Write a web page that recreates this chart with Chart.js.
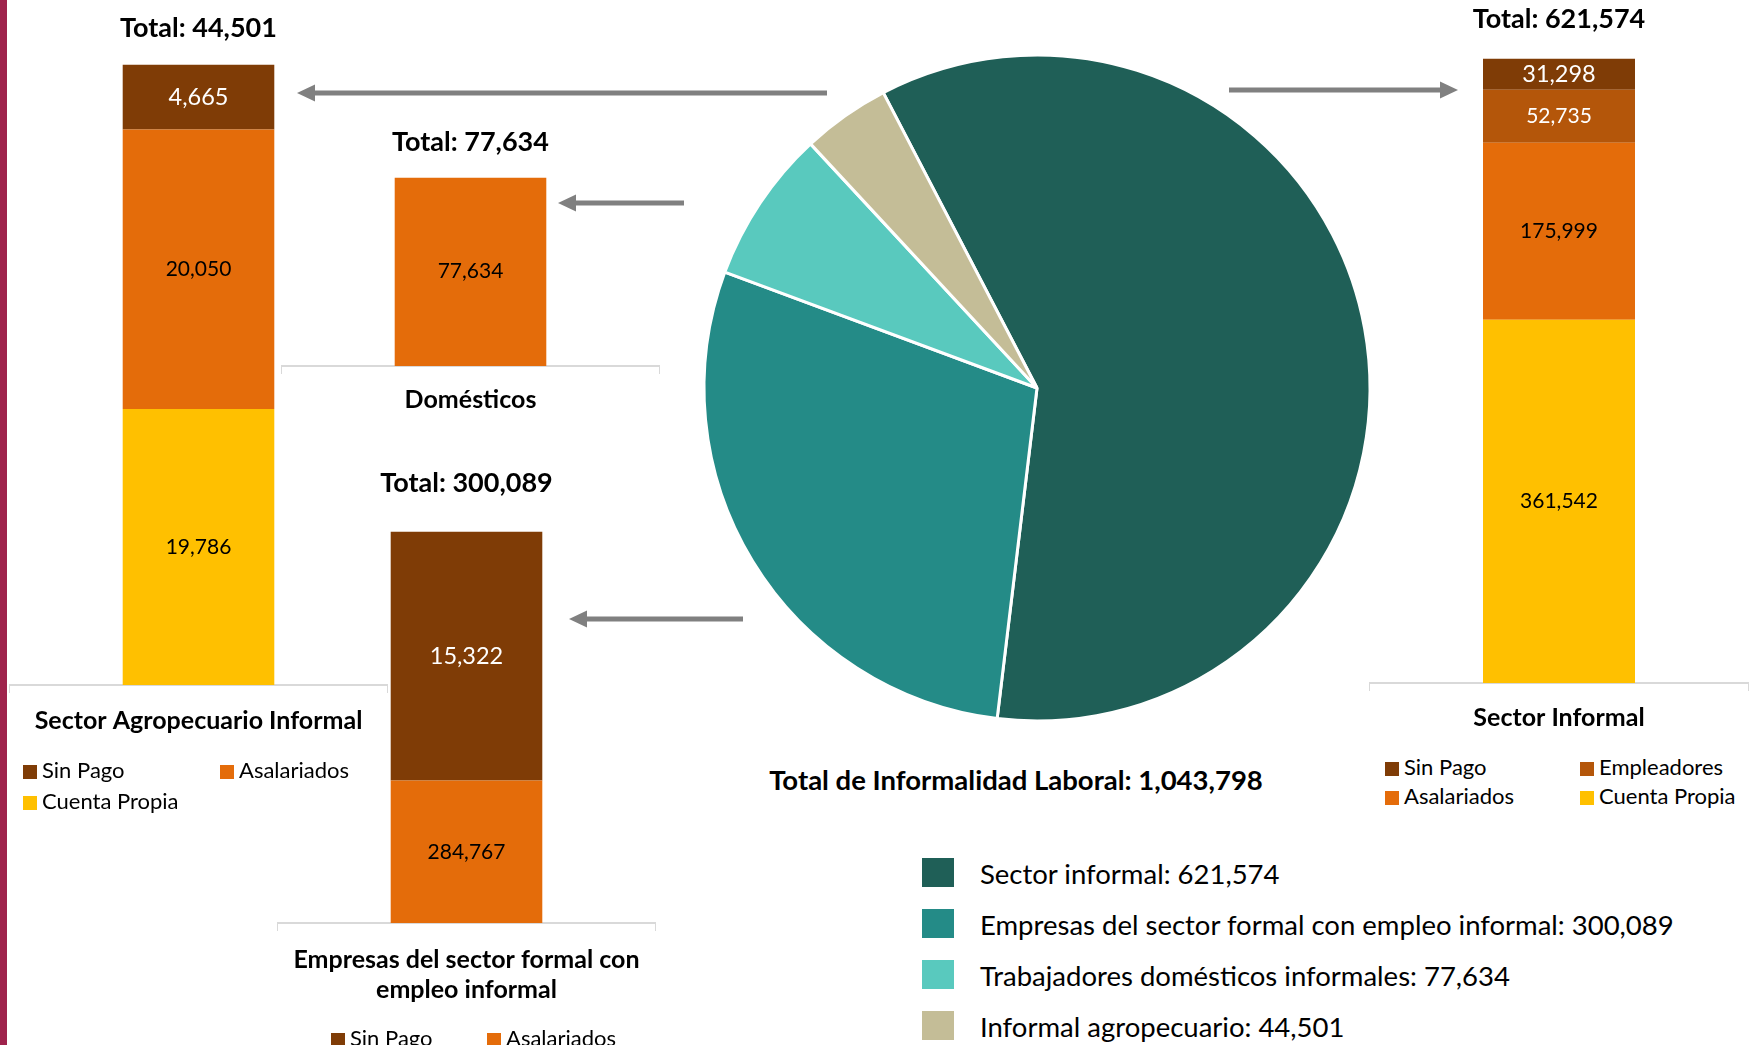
<!DOCTYPE html>
<html lang="es">
<head>
<meta charset="utf-8">
<title>Informalidad laboral</title>
<script src="https://cdn.jsdelivr.net/npm/chart.js@4.4.1/dist/chart.umd.min.js"></script>
<style>
  html, body { margin: 0; padding: 0; background: #fff; }
  body { width: 1756px; height: 1045px; position: relative; overflow: hidden; font-family: Lato, sans-serif; color: #000; }
  .strip { position: absolute; left: 0; top: 0; width: 7px; height: 1045px; background: #9F234C; }
  .box { position: absolute; }
  .legend { position: absolute; display: grid; font-size: 22px; line-height: 29px; white-space: nowrap; }
  .legend span.sq { display: inline-block; width: 14px; height: 14px; margin-right: 5px; vertical-align: -1px; }
  .pie-legend { position: absolute; left: 922px; top: 858px; font-size: 27.5px; }
  .pie-legend div { height: 51px; display: flex; align-items: flex-start; white-space: nowrap; }
  .pie-legend span.sq { display: inline-block; width: 32px; height: 29px; margin-right: 26px; }
  .pie-legend span.tx { position: relative; top: -1px; line-height: 33px; }
  .total { position: absolute; left: 716px; width: 600px; top: 763px; line-height: 33px; text-align: center; font-size: 27.5px; font-weight: bold; }
  svg.arrows { position: absolute; left: 0; top: 0; }
</style>
</head>
<body>
<div class="strip"></div>

<div class="box" style="left:9px;top:0px;"><canvas id="chartAgro" width="379" height="749"></canvas></div>
<div class="box" style="left:281px;top:120px;"><canvas id="chartDom" width="379" height="306"></canvas></div>
<div class="box" style="left:277px;top:460px;"><canvas id="chartEmp" width="379" height="559"></canvas></div>
<div class="box" style="left:1369px;top:0px;"><canvas id="chartInf" width="380" height="745"></canvas></div>
<div class="box" style="left:687px;top:38px;"><canvas id="chartPie" width="700" height="700"></canvas></div>

<div id="legendAgro" class="legend" style="left:23px;top:754px;grid-template-columns:197px 197px;line-height:31px;"></div>
<div id="legendInf" class="legend" style="left:1385px;top:752px;grid-template-columns:195px 195px;"></div>
<div id="legendEmp" class="legend" style="left:331px;top:1023px;grid-template-columns:156px 156px;"></div>

<div class="total" id="totalText"></div>
<div class="pie-legend" id="legendPie"></div>

<svg class="arrows" id="arrows" width="1756" height="1045"></svg>

<script>
// =========================================
// DATA
// =========================================

// Pie: total informalidad laboral
const pieLabels = ['Sector informal', 'Empresas del sector formal con empleo informal', 'Trabajadores domésticos informales', 'Informal agropecuario'];
const pieValues = [621574, 300089, 77634, 44501];
const pieColors = ['#1F5F57', '#248B87', '#59C9BE', '#C4BD97'];

// Sector Agropecuario Informal (bottom to top)
const agroSeries = ['Cuenta Propia', 'Asalariados', 'Sin Pago'];
const agroValues = [19786, 20050, 4665];

// Domésticos
const domSeries = ['Asalariados'];
const domValues = [77634];

// Empresas del sector formal con empleo informal (bottom to top)
const empSeries = ['Asalariados', 'Sin Pago'];
const empValues = [284767, 15322];
const empAxisMin = 276000;

// Sector Informal (bottom to top)
const infSeries = ['Cuenta Propia', 'Asalariados', 'Empleadores', 'Sin Pago'];
const infValues = [361542, 175999, 52735, 31298];

// Colours per tipo
const tipoColors = {
    'Sin Pago': '#7F3C06',
    'Empleadores': '#B4560A',
    'Asalariados': '#E46C0A',
    'Cuenta Propia': '#FFC000'
};
const tipoText = {
    'Sin Pago': '#FFFFFF',
    'Empleadores': '#FFFFFF',
    'Asalariados': '#000000',
    'Cuenta Propia': '#000000'
};
const tipoTextSize = {
    'Sin Pago': 23.5,
    'Empleadores': 21,
    'Asalariados': 21,
    'Cuenta Propia': 21
};

Chart.defaults.font.family = 'Lato';
Chart.defaults.color = '#000';

const fmt = (v) => v.toLocaleString('en-US');
const sum = (arr) => arr.reduce((a, b) => a + b, 0);

// =========================================
// PLUGINS
// =========================================

// value in the middle of each visible segment
const valueLabels = {
    id: 'valueLabels',
    afterDatasetsDraw(chart) {
        const ctx = chart.ctx;
        const area = chart.chartArea;
        ctx.save();
        ctx.textAlign = 'center';
        ctx.textBaseline = 'middle';
        chart.data.datasets.forEach((ds, i) => {
            chart.getDatasetMeta(i).data.forEach((bar, j) => {
                const top = Math.max(bar.y, area.top);
                const bottom = Math.min(bar.base, area.bottom);
                ctx.font = ds.labelSize + 'px Lato';
                ctx.fillStyle = ds.labelColor;
                ctx.fillText(fmt(ds.data[j]), bar.x, (top + bottom) / 2);
            });
        });
        ctx.restore();
    }
};

// =========================================
// CHARTS
// =========================================

function stackedBar(id, category, series, values, opts) {
    const total = sum(values);
    const ctx = document.getElementById(id).getContext('2d');
    return new Chart(ctx, {
        type: 'bar',
        data: {
            labels: [category],
            datasets: series.map((name, i) => ({
                label: name,
                data: [values[i]],
                backgroundColor: tipoColors[name],
                labelColor: tipoText[name],
                labelSize: tipoTextSize[name],
                borderWidth: 0,
                barPercentage: 0.4,
                categoryPercentage: 1.0,
                clip: 0
            }))
        },
        options: {
            responsive: false,
            animation: false,
            layout: { padding: 0 },
            plugins: {
                legend: { display: false },
                tooltip: { enabled: false },
                title: {
                    display: true,
                    text: 'Total: ' + fmt(total),
                    font: { size: 27, weight: 'bold' },
                    color: '#000',
                    padding: { top: opts.titleTop, bottom: opts.titleBottom }
                }
            },
            scales: {
                x: {
                    stacked: true,
                    grid: {
                        offset: true,
                        drawOnChartArea: false,
                        drawTicks: true,
                        tickLength: 8,
                        color: '#D9D9D9',
                        lineWidth: 2
                    },
                    border: { display: true, color: '#D9D9D9', width: 2 },
                    ticks: {
                        color: '#000',
                        font: { size: 25, weight: 'bold' },
                        padding: opts.tickPad,
                        maxRotation: 0,
                        autoSkip: false
                    }
                },
                y: {
                    stacked: true,
                    display: false,
                    min: opts.min || 0,
                    max: total
                }
            }
        },
        plugins: [valueLabels]
    });
}

stackedBar('chartAgro', 'Sector Agropecuario Informal', agroSeries, agroValues,
    { titleTop: 12, titleBottom: 20, tickPad: 13 });
stackedBar('chartDom', 'Domésticos', domSeries, domValues,
    { titleTop: 6, titleBottom: 19, tickPad: 11 });
stackedBar('chartEmp', ['Empresas del sector formal con', 'empleo informal'], empSeries, empValues,
    { titleTop: 7, titleBottom: 32, tickPad: 14, min: empAxisMin });
stackedBar('chartInf', 'Sector Informal', infSeries, infValues,
    { titleTop: 3, titleBottom: 23, tickPad: 12 });

// Pie
new Chart(document.getElementById('chartPie').getContext('2d'), {
    type: 'pie',
    data: {
        labels: pieLabels,
        datasets: [{
            data: pieValues,
            backgroundColor: pieColors,
            borderColor: '#FFFFFF',
            borderWidth: 3
        }]
    },
    options: {
        responsive: false,
        animation: false,
        radius: 333,
        rotation: -27.5,
        plugins: {
            legend: { display: false },
            tooltip: { enabled: false }
        }
    }
});

// =========================================
// LEGENDS / TEXT
// =========================================

function buildLegend(elId, order) {
    const el = document.getElementById(elId);
    order.forEach((name) => {
        const item = document.createElement('div');
        item.innerHTML = '<span class="sq" style="background:' + tipoColors[name] + '"></span>' + name;
        el.appendChild(item);
    });
}
buildLegend('legendAgro', ['Sin Pago', 'Asalariados', 'Cuenta Propia']);
buildLegend('legendInf', ['Sin Pago', 'Empleadores', 'Asalariados', 'Cuenta Propia']);
buildLegend('legendEmp', ['Sin Pago', 'Asalariados']);

document.getElementById('totalText').textContent = 'Total de Informalidad Laboral: ' + fmt(sum(pieValues));

const pieLegend = document.getElementById('legendPie');
pieLabels.forEach((name, i) => {
    const row = document.createElement('div');
    row.innerHTML = '<span class="sq" style="background:' + pieColors[i] + '"></span>' +
        '<span class="tx">' + name + ': ' + fmt(pieValues[i]) + '</span>';
    pieLegend.appendChild(row);
});

// Arrows (pie -> detail charts)
const arrowSpecs = [
    { x1: 827, x2: 297, y: 93 },
    { x1: 684, x2: 558, y: 203 },
    { x1: 743, x2: 569, y: 619 },
    { x1: 1229, x2: 1458, y: 90 }
];
const svg = document.getElementById('arrows');
const NS = 'http://www.w3.org/2000/svg';
arrowSpecs.forEach((a) => {
    const dir = a.x2 > a.x1 ? 1 : -1;
    const headLen = 18;
    const bx = a.x2 - dir * headLen;
    const line = document.createElementNS(NS, 'line');
    line.setAttribute('x1', a.x1);
    line.setAttribute('y1', a.y);
    line.setAttribute('x2', bx);
    line.setAttribute('y2', a.y);
    line.setAttribute('stroke', '#808080');
    line.setAttribute('stroke-width', 5);
    svg.appendChild(line);
    const head = document.createElementNS(NS, 'polygon');
    head.setAttribute('points', a.x2 + ',' + a.y + ' ' + bx + ',' + (a.y - 8.5) + ' ' + bx + ',' + (a.y + 8.5));
    head.setAttribute('fill', '#808080');
    svg.appendChild(head);
});
</script>
</body>
</html>
